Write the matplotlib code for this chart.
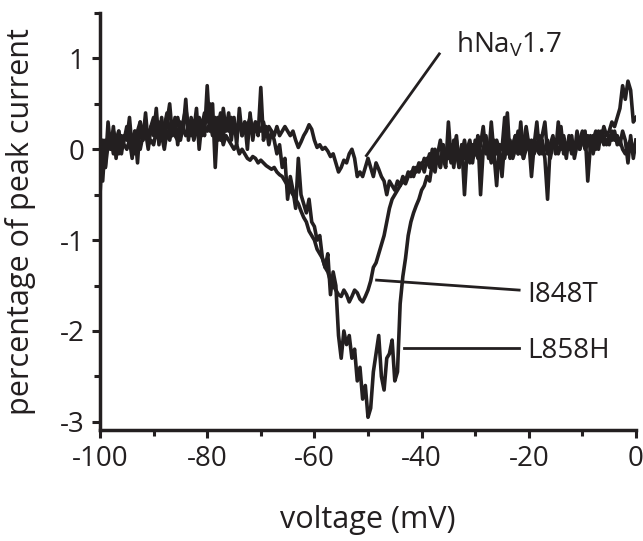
import numpy as np
import matplotlib
matplotlib.use("Agg")
import matplotlib.pyplot as plt
from matplotlib.ticker import MultipleLocator

plt.rcParams['font.family'] = ['Open Sans', 'DejaVu Sans']
plt.rcParams['mathtext.fontset'] = 'custom'
plt.rcParams['mathtext.rm'] = 'Open Sans'
plt.rcParams['axes.unicode_minus'] = False

# voltage grid (mV), 0.5 mV steps from -100 to 0
voltage = np.arange(-100, 0.001, 0.5)

wt = [
    0.05, -0.35, 0.1, 0.05, 0.15, -0.05, 0.1, 0.2, 0.0, 0.1,
    0.25, 0.05, 0.15, -0.05, 0.2, 0.3, 0.1, 0.2, 0.0, 0.25,
    0.35, 0.15, 0.3, 0.1, 0.25, 0.4, 0.15, 0.3, 0.2, 0.35,
    0.2, 0.3, 0.45, 0.25, 0.15, 0.3, 0.2, 0.35, 0.25, 0.4,
    0.3, 0.5, 0.2, 0.35, 0.25, 0.4, 0.15, 0.3, 0.2, 0.35,
    0.25, 0.2, 0.3, 0.15, 0.3, 0.25, 0.35, 0.2, 0.3, 0.25,
    0.2, 0.3, 0.15, 0.25, 0.2, 0.15, 0.25, 0.15, 0.2, 0.25,
    0.2, 0.15, 0.2, 0.1, 0.02, 0.08, 0.15, 0.2, 0.27, 0.22,
    0.1, 0.02, 0.05, 0.0, 0.02, -0.02, -0.08, -0.05, -0.15, -0.25,
    -0.2, -0.12, -0.15, -0.05, 0.0, -0.1, -0.3, -0.25, -0.3, -0.2,
    -0.1, -0.2, -0.3, -0.15, -0.22, -0.3, -0.35, -0.5, -0.35, -0.4,
    -0.45, -0.35, -0.4, -0.3, -0.35, -0.25, -0.3, -0.2, -0.25, -0.15,
    -0.2, -0.1, -0.15, -0.05, -0.15, 0.0, -0.1, -0.2, 0.05, -0.1,
    0.0, -0.15, 0.1, -0.05, -0.2, 0.05, -0.1, 0.0, -0.15, 0.05,
    -0.05, 0.1, -0.1, 0.0, 0.15, -0.05, 0.05, -0.1, 0.1, 0.0,
    0.05, -0.1, 0.1, -0.05, 0.0, 0.15, -0.05, 0.05, -0.1, 0.1,
    0.0, 0.1, -0.05, 0.05, 0.15, -0.05, 0.0, 0.1, -0.1, 0.05,
    0.1, -0.05, 0.05, 0.15, 0.0, 0.1, -0.05, 0.05, 0.1, 0.0,
    0.1, 0.05, 0.15, 0.0, 0.1, 0.2, 0.05, 0.1, 0.15, 0.05,
    0.15, 0.1, 0.2, 0.05, 0.1, 0.0, -0.05, 0.05, 0.1, -0.05,
    0.1,
]

i848t = [
    -0.1, 0.1, -0.2, 0.05, 0.0, 0.2, 0.1, -0.05, 0.15, 0.05,
    0.0, 0.1, -0.1, 0.2, 0.05, 0.0, 0.15, 0.25, 0.05, 0.1,
    0.05, 0.2, 0.1, 0.15, 0.0, 0.2, 0.1, 0.25, 0.15, 0.1,
    0.1, 0.25, 0.15, 0.2, 0.3, 0.1, 0.2, 0.3, 0.15, 0.25,
    0.2, 0.3, 0.15, 0.25, 0.1, 0.2, 0.05, 0.15, 0.1, 0.05,
    0.0, 0.05, -0.05, 0.0, -0.05, -0.1, -0.12, -0.08, -0.1, -0.15,
    -0.12, -0.15, -0.18, -0.2, -0.22, -0.2, -0.25, -0.28, -0.3, -0.35,
    -0.4, -0.45, -0.5, -0.55, -0.6, -0.68, -0.75, -0.8, -0.9, -0.95,
    -1.0, -1.1, -1.15, -1.2, -1.3, -1.35, -1.45, -1.5, -1.55, -1.6,
    -1.62, -1.55, -1.6, -1.68, -1.62, -1.55, -1.58, -1.65, -1.68, -1.62,
    -1.55, -1.45, -1.3, -1.25, -1.15, -1.05, -0.95, -0.8, -0.65, -0.55,
    -0.5, -0.45, -0.4, -0.35, -0.38, -0.3, -0.25, -0.3, -0.2, -0.25,
    -0.15, -0.25, -0.1, -0.2, 0.0, -0.15, -0.05, 0.1, -0.1, -0.2,
    0.3, -0.1, 0.0, 0.15, -0.2, -0.05, 0.1, -0.1, 0.0, -0.15,
    0.1, -0.1, 0.05, 0.25, -0.05, 0.0, -0.15, 0.1, -0.05, 0.05,
    0.0, 0.35, -0.05, 0.1, -0.1, 0.0, 0.2, -0.05, 0.05, 0.25,
    0.05, -0.1, 0.1, 0.0, -0.05, 0.15, 0.3, -0.05, 0.0, 0.1,
    0.0, 0.1, 0.25, -0.05, 0.05, 0.0, 0.15, -0.1, 0.05, 0.1,
    0.2, 0.0, 0.05, 0.15, -0.05, 0.1, 0.0, 0.2, 0.05, 0.1,
    0.05, 0.2, 0.1, 0.15, 0.05, 0.2, 0.1, -0.15, 0.15, -0.1,
    0.1,
]

l858h = [
    -0.5, 0.05, -0.2, 0.3, 0.0, 0.25, -0.1, 0.2, -0.05, 0.15,
    0.1, 0.35, 0.0, 0.2, -0.15, 0.3, 0.1, 0.4, 0.05, 0.25,
    0.15, 0.45, 0.05, 0.35, 0.1, 0.3, 0.5, 0.15, 0.35, 0.05,
    0.3, 0.2, 0.55, 0.1, 0.35, 0.2, 0.45, 0.0, 0.3, 0.15,
    0.7, 0.2, 0.5, -0.2, 0.35, 0.1, 0.45, 0.2, 0.4, 0.1,
    0.35, 0.05, 0.45, 0.15, 0.3, 0.0, 0.4, 0.1, 0.3, 0.15,
    0.68, 0.1, 0.25, 0.05, 0.2, 0.1, -0.05, 0.05, -0.2, -0.1,
    -0.55, -0.3, -0.45, -0.65, -0.1, -0.5, -0.6, -0.7, -0.55, -0.8,
    -0.85, -1.0, -0.95, -1.2, -1.3, -1.15, -1.6, -1.35, -1.5, -2.05,
    -2.3, -2.0, -2.15, -2.05, -2.3, -2.2, -2.55, -2.4, -2.75, -2.6,
    -2.95, -2.85, -2.45, -2.25, -2.05, -2.5, -2.65, -2.3, -2.25, -2.1,
    -2.55, -2.45, -1.7, -1.4, -1.2, -0.95, -0.8, -0.7, -0.62, -0.55,
    -0.45, -0.4, -0.3, -0.35, -0.15, -0.25, -0.05, -0.2, 0.05, -0.1,
    -0.1, 0.05, -0.2, 0.1, -0.15, 0.05, -0.5, 0.0, 0.1, -0.1,
    -0.05, 0.15, -0.5, 0.0, 0.1, -0.1, 0.3, -0.05, -0.4, 0.05,
    -0.3, 0.1, 0.4, -0.1, 0.05, 0.15, -0.05, 0.3, -0.1, 0.0,
    0.1, -0.3, 0.05, 0.3, -0.05, 0.1, -0.1, -0.55, 0.05, 0.15,
    -0.05, 0.3, 0.0, 0.1, -0.1, 0.15, 0.05, -0.05, 0.2, 0.0,
    0.1, 0.2, -0.35, 0.05, 0.15, 0.0, 0.2, 0.1, 0.25, 0.15,
    0.2, 0.3, 0.25, 0.35, 0.45, 0.7, 0.55, 0.75, 0.65, 0.3,
    0.35,
]

# annotation labels: (text, line start, line end, text anchor)
labels = ["$\\mathregular{hNa_V1.7}$", "I848T", "L858H"]
label_tip = [(-50.3, -0.07), (-48.4, -1.44), (-43.2, -2.19)]
label_end = [(-36.7, 1.05), (-21.8, -1.55), (-21.8, -2.19)]
label_pos = [(-33.5, 1.07), (-20.3, -1.68), (-20.3, -2.30)]

x_ticks = [-100, -80, -60, -40, -20, 0]
y_ticks = [-3, -2, -1, 0, 1]

col = '#231f20'

fig = plt.figure(figsize=(6.43, 5.41), dpi=100)
ax = fig.add_axes([100/643, 111/541, 536/643, 417/541])

for series in (wt, i848t, l858h):
    ax.plot(voltage, series, color=col, lw=2.6, solid_joinstyle='round', zorder=3)

for txt, tip, end, pos in zip(labels, label_tip, label_end, label_pos):
    ax.plot([tip[0], end[0]], [tip[1], end[1]], color=col, lw=2.0, zorder=4)
    ax.text(pos[0], pos[1], txt, fontsize=20, color=col, ha='left', va='baseline')

ax.set_xlim(-100, 0)
ax.set_ylim(-3.09, 1.5)
ax.set_xticks(x_ticks)
ax.set_yticks(y_ticks)
ax.xaxis.set_minor_locator(MultipleLocator(10))
ax.yaxis.set_minor_locator(MultipleLocator(0.5))
for s in ['top', 'right']:
    ax.spines[s].set_visible(False)
for s in ['left', 'bottom']:
    ax.spines[s].set_linewidth(2.5)
    ax.spines[s].set_color(col)
    ax.spines[s].set_capstyle('projecting')
ax.tick_params(which='major', length=6, width=2.2, color=col, labelsize=20,
               labelcolor=col, pad=5, direction='out')
ax.tick_params(which='minor', length=4, width=2.2, color=col, direction='out')

ax.set_xlabel('voltage (mV)', fontsize=22, color=col)
ax.set_ylabel('percentage of peak current', fontsize=22, color=col)
ax.xaxis.set_label_coords(0.5, -0.18)
ax.yaxis.set_label_coords(-0.12, 0.5)

fig.savefig('out.png', dpi=100)
